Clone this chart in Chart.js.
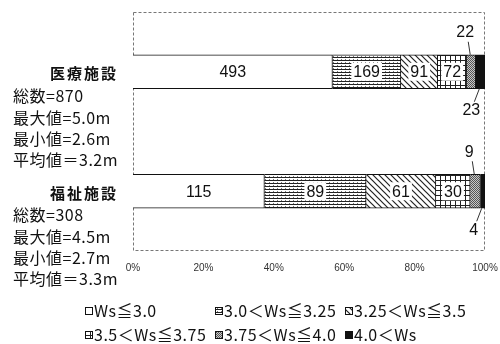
<!DOCTYPE html>
<html lang="ja">
<head>
<meta charset="UTF-8">
<title>Ws distribution</title>
<script src="https://cdn.jsdelivr.net/npm/chart.js"></script>
<style>
  body { margin: 0; background: #fff; }
</style>
</head>
<body>
<canvas id="wsChart" width="500" height="344"></canvas>
<script>
// facilities and their summary figures
const facilities = ['医療施設', '福祉施設'];
const totals = [870, 308];
const maxWs = ['5.0m', '4.5m'];
const minWs = ['2.6m', '2.7m'];
const meanWs = ['3.2m', '3.3m'];

// Ws classes (legend order) and counts per facility
const classes = ['Ws≦3.0', '3.0＜Ws≦3.25', '3.25＜Ws≦3.5', '3.5＜Ws≦3.75', '3.75＜Ws≦4.0', '4.0＜Ws'];
const counts = [
  [493, 115],
  [169, 89],
  [91, 61],
  [72, 30],
  [22, 9],
  [23, 4]
];

// hatch fills, one per class
function makePattern(kind) {
  if (kind === 'white') return '#ffffff';
  if (kind === 'black') return '#111111';
  const cv = document.createElement('canvas');
  const g = cv.getContext('2d');
  if (kind === 'hlines') {
    cv.width = 4; cv.height = 3;
    g.fillStyle = '#fff'; g.fillRect(0, 0, 4, 3);
    g.fillStyle = '#222'; g.fillRect(0, 0, 4, 1);
    g.fillStyle = '#777'; g.fillRect(1, 2, 1, 1);
  } else if (kind === 'diag') {
    cv.width = 6; cv.height = 6;
    g.fillStyle = '#fff'; g.fillRect(0, 0, 6, 6);
    g.strokeStyle = '#222'; g.lineWidth = 1.2;
    g.beginPath();
    g.moveTo(-1, -1); g.lineTo(7, 7);
    g.moveTo(-1, 5); g.lineTo(1, 7);
    g.moveTo(5, -1); g.lineTo(7, 1);
    g.stroke();
  } else if (kind === 'grid') {
    cv.width = 5; cv.height = 5;
    g.fillStyle = '#fff'; g.fillRect(0, 0, 5, 5);
    g.fillStyle = '#222';
    g.fillRect(0, 0, 5, 1);
    g.fillRect(0, 0, 1, 5);
  } else if (kind === 'dots') {
    cv.width = 2; cv.height = 2;
    g.fillStyle = '#c8c8c8'; g.fillRect(0, 0, 2, 2);
    g.fillStyle = '#555';
    g.fillRect(0, 0, 1, 1); g.fillRect(1, 1, 1, 1);
  }
  return g.createPattern(cv, 'repeat');
}
const fills = ['white', 'hlines', 'diag', 'grid', 'dots', 'black'].map(makePattern);

// dashed frame round the plot area
const framePlugin = {
  id: 'frame',
  beforeDatasetsDraw(chart) {
    const { left, right, top, bottom } = chart.chartArea;
    const c = chart.ctx;
    c.save();
    c.strokeStyle = '#777';
    c.lineWidth = 1;
    c.setLineDash([3, 2]);
    c.strokeRect(left + 0.5, top + 0.5, right - left - 1, bottom - top - 1);
    c.restore();
  }
};

// counts inside segments, small ones as callouts
const labelPlugin = {
  id: 'segLabels',
  afterDatasetsDraw(chart) {
    const c = chart.ctx;
    c.save();
    c.font = '16px "Liberation Sans", Arial, sans-serif';
    c.textAlign = 'center';
    c.textBaseline = 'middle';
    chart.data.datasets.forEach((ds, i) => {
      chart.getDatasetMeta(i).data.forEach((bar, j) => {
        const txt = String(ds.counts[j]);
        const { x, base, y, height } = bar.getProps(['x', 'base', 'y', 'height'], true);
        const cx = (x + base) / 2;
        if (x - base > 20) {
          const w = c.measureText(txt).width;
          if (i > 0) {
            c.fillStyle = '#fff';
            c.fillRect(cx - w / 2 - 2, y - 9, w + 4, 18);
          }
          c.fillStyle = '#111';
          c.fillText(txt, cx, y + 1);
        } else {
          const up = i === 4;
          const dir = up ? -1 : 1;
          const edge = y + dir * height / 2;
          const tx = cx - (up ? 6 : 9);
          const ty = edge + dir * 22;
          c.strokeStyle = '#333';
          c.lineWidth = 1;
          c.beginPath();
          c.moveTo(cx - 1, edge);
          c.lineTo(tx + 3, ty - dir * 9);
          c.stroke();
          c.fillStyle = '#111';
          c.fillText(txt, tx, ty);
        }
      });
    });
    c.restore();
  }
};

// facility name and summary lines at the left
const sideOffsets = [2, 24, 46, 67, 88];
const sidePlugin = {
  id: 'sideNotes',
  afterDraw(chart) {
    const c = chart.ctx;
    const yScale = chart.scales.y;
    c.save();
    c.fillStyle = '#111';
    c.textAlign = 'left';
    c.textBaseline = 'middle';
    facilities.forEach((name, j) => {
      const yc = yScale.getPixelForValue(j);
      c.font = 'bold 15px "Noto Sans CJK JP"';
      let x = 50;
      for (const ch of name) { c.fillText(ch, x, yc + sideOffsets[0]); x += 17; }
      c.font = '16px "Noto Sans CJK JP"';
      c.letterSpacing = '0.5px';
      const lines = ['総数=' + totals[j], '最大値=' + maxWs[j], '最小値=' + minWs[j], '平均値＝' + meanWs[j]];
      lines.forEach((t, k) => c.fillText(t, 13, yc + sideOffsets[k + 1]));
      c.letterSpacing = '0px';
    });
    c.restore();
  }
};

// two-row legend below the axis
const legendPlugin = {
  id: 'gridLegend',
  afterDraw(chart) {
    const c = chart.ctx;
    c.save();
    c.font = '16px "Noto Sans CJK JP"';
    c.letterSpacing = '0.5px';
    c.textBaseline = 'middle';
    chart.data.datasets.forEach((ds, i) => {
      const x = 85 + (i % 3) * 130;
      const y = 311 + Math.floor(i / 3) * 24;
      c.fillStyle = ds.backgroundColor;
      c.fillRect(x, y - 4, 8, 8);
      c.strokeStyle = '#111';
      c.lineWidth = 1;
      c.strokeRect(x + 0.5, y - 3.5, 7, 7);
      c.fillStyle = '#111';
      c.fillText(ds.label, x + 9, y);
    });
    c.restore();
  }
};

const ctx = document.getElementById('wsChart').getContext('2d');
new Chart(ctx, {
  type: 'bar',
  data: {
    labels: facilities,
    datasets: classes.map((name, i) => ({
      label: name,
      data: counts[i].map((v, j) => v / totals[j] * 100),
      counts: counts[i],
      backgroundColor: fills[i],
      borderColor: '#111',
      borderWidth: 1,
      barThickness: 34
    }))
  },
  options: {
    indexAxis: 'y',
    responsive: false,
    animation: false,
    layout: { padding: { left: 133, right: 15, top: 12, bottom: 70 } },
    plugins: {
      legend: { display: false },
      tooltip: { enabled: false }
    },
    scales: {
      x: {
        stacked: true,
        min: 0,
        max: 100,
        grid: { display: false, drawTicks: true, tickLength: 11 },
        border: { display: false },
        ticks: {
          stepSize: 20,
          padding: 0,
          color: '#333',
          font: { size: 10, family: '"Liberation Sans", Arial, sans-serif' },
          callback: v => v + '%'
        }
      },
      y: { stacked: true, display: false }
    }
  },
  plugins: [framePlugin, labelPlugin, sidePlugin, legendPlugin]
});
</script>
</body>
</html>
